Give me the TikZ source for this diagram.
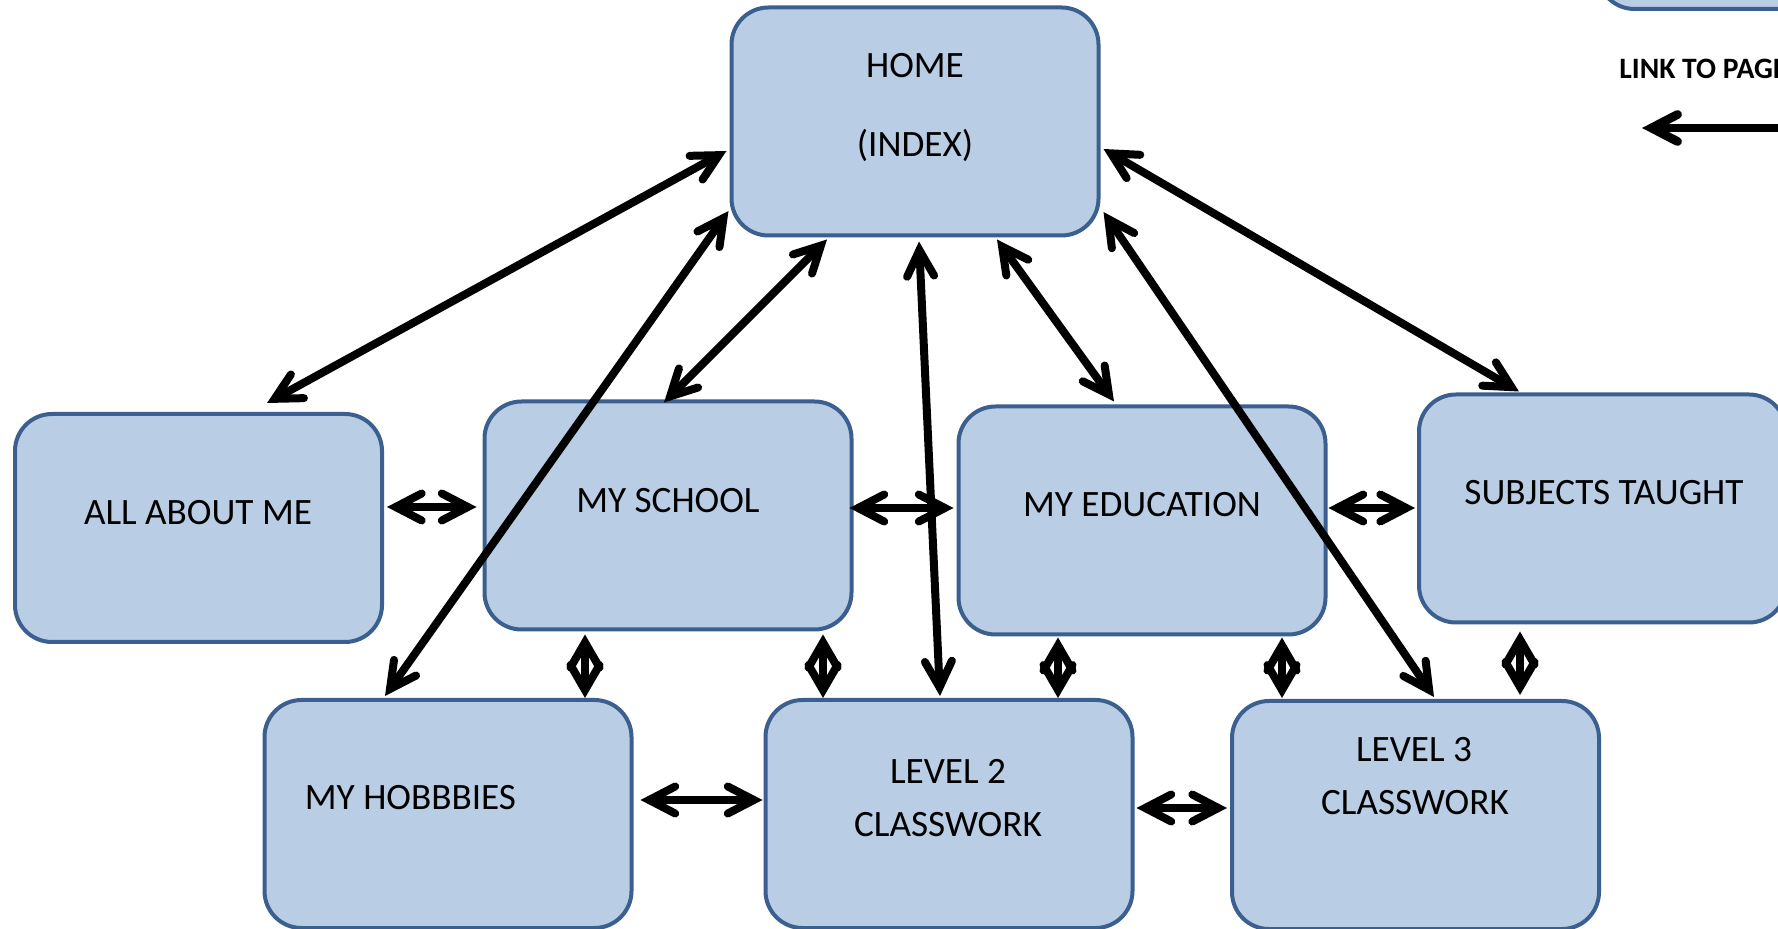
\documentclass[tikz,border=0pt]{standalone}
\usepackage{fontspec}
\setmainfont{Carlito}
\usetikzlibrary{arrows.meta,calc}
\definecolor{boxfill}{HTML}{B9CDE5}
\definecolor{boxline}{HTML}{3B5F8E}
\begin{document}
\begin{tikzpicture}[x=0.5pt,y=-0.5pt,
  pagebox/.style={draw=boxline, fill=boxfill, line width=2pt, rounded corners=18.5pt,
    minimum width=183.5pt, minimum height=114pt, inner sep=0pt},
  lbl/.style={font=\fontsize{18.6pt}{22pt}\selectfont, inner sep=0pt, anchor=base},
  barb/.tip={Straight Barb[length=13pt,width=13.5pt,line cap=round,line join=miter]},
  sbarb/.tip={Straight Barb[length=12.5pt,width=14.5pt,line cap=round,line join=miter]},
  link/.style={line width=4pt, barb-barb},
  shortlink/.style={line width=4pt, sbarb-sbarb},
  legendlink/.style={line width=4.4pt, -barb},
]
\fill[white] (0,0) rectangle (1778,929);
\useasboundingbox (0,0) rectangle (1778,929);

% page boxes
\node[pagebox] (tr) at (1781,-105) {};
\node[pagebox] (home) at (915,121.5) {};
\node[pagebox] (aam) at (198.5,528) {};
\node[pagebox] (school) at (668,515.5) {};
\node[pagebox] (edu) at (1142,520.5) {};
\node[pagebox] (subj) at (1602.5,508.5) {};
\node[pagebox] (hobby) at (448,814) {};
\node[pagebox] (lvl2) at (949,814) {};
\node[pagebox] (lvl3) at (1415.5,815) {};

% labels
\node[lbl] (homeA) at (915,78) {HOME};
\node[lbl] (homeB) at (915,157) {(INDEX)};
\node[lbl] (aamT) at (198,525) {ALL ABOUT ME};
\node[lbl] (schoolT) at (668,513) {MY SCHOOL};
\node[lbl] (eduT) at (1142,517) {MY EDUCATION};
\node[lbl] (subjT) at (1604,505) {SUBJECTS TAUGHT};
\node[lbl] (hobbyT) at (410.5,810) {MY HOBBBIES};
\node[lbl] (lvl2A) at (948,784) {LEVEL 2};
\node[lbl] (lvl2B) at (948,836) {CLASSWORK};
\node[lbl] (lvl3A) at (1414,762) {LEVEL 3};
\node[lbl] (lvl3B) at (1415,815) {CLASSWORK};

% legend
\node[font=\bfseries\fontsize{14.8pt}{17pt}\selectfont, inner sep=0pt, anchor=base west] (lgd) at (1619,79) {LINK TO PAGE};
\coordinate (lgdR) at (1800,128);
\coordinate (lgdL) at (1642,128);
\draw[legendlink] (lgdR) -- (lgdL);

% links from HOME
\draw[link] ($(home.west)+(-3,29.5)$) -- ($(aam.north)+(68.5,-9)$);
\draw[link] ($(home.west)+(-1,89.5)$) -- ($(hobby.north)+(-63,-2)$);
\draw[link] ($(home.south)+(-88,2)$) -- ($(school.north)+(-4,3)$);
\draw[link] ($(home.south)+(4,4)$) -- ($(lvl2.north)+(-9,-2)$);
\draw[link] ($(home.south)+(82,2)$) -- ($(edu.north)+(-28,-3)$);
\draw[link] ($(home.east)+(3,90.5)$) -- ($(lvl3.north)+(18.5,-2)$);
\draw[link] ($(home.east)+(3,27.5)$) -- ($(subj.north)+(-83.5,-1)$);

% horizontal links
\draw[link] ($(aam.east)+(3,-21)$) -- ($(school.west)+(-6,-8.5)$);
\draw[link] ($(school.east)+(-4,-7.5)$) -- ($(edu.west)+(-3,-12.5)$);
\draw[link] ($(edu.east)+(1,-12.5)$) -- ($(subj.west)+(-2,-0.5)$);
\draw[link] ($(hobby.east)+(7,-14)$) -- ($(lvl2.west)+(-1,-14)$);
\draw[link] ($(lvl2.east)+(2,-6)$) -- ($(lvl3.west)+(-3,-7)$);

% short vertical links
\draw[shortlink] ($(school.south)+(-83,3)$) -- ($(hobby.north)+(137,0)$);
\draw[shortlink] ($(school.south)+(155,3)$) -- ($(lvl2.north)+(-126,0)$);
\draw[shortlink] ($(edu.south)+(-84,1)$) -- ($(lvl2.north)+(109,0)$);
\draw[shortlink] ($(edu.south)+(140,1)$) -- ($(lvl3.north)+(-133.5,-1)$);
\draw[shortlink] ($(subj.south)+(-82.5,7)$) -- ($(lvl3.north)+(104.5,-4)$);
\end{tikzpicture}
\end{document}
